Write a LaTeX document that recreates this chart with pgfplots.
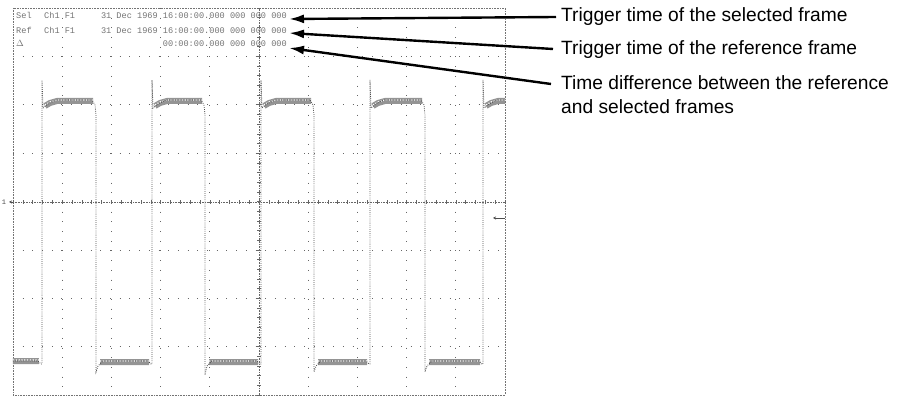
\documentclass[border=0pt]{standalone}
\usepackage{pgfplots}
\pgfplotsset{compat=1.18}
\usepackage{fontspec}
\setmainfont{Liberation Sans}
\newfontfamily\scopefont{Liberation Mono}
\usetikzlibrary{arrows.meta}

\begin{document}
\begin{tikzpicture}[x=1pt,y=1pt]
\useasboundingbox (0,0) rectangle (906,398);
\begin{axis}[
  at={(13pt,3pt)}, anchor=south west,
  scale only axis, width=492pt, height=387pt,
  xmin=13, xmax=505, ymin=8, ymax=395, y dir=reverse,
  clip=false,
  axis line style={draw=black!55, densely dotted, line width=0.6pt},
  xtick={62.2,111.4,160.6,209.8,308.2,357.4,406.6,455.8},
  ytick={56.4,104.8,153.1,249.9,298.3,346.6},
  xticklabels={}, yticklabels={},
  major tick length=0pt,
  grid=major,
  major grid style={draw=black!60, line width=0.7pt, dash pattern=on 0.7pt off 9.0pt},
  unbounded coords=jump,
]
% noisy flat levels of the square wave (bands)
\addplot[black!42, line width=6pt] coordinates {
 (13,361) (39,361) (nan,nan)
 (45,106) (50,103) (57,101) (93,101) (nan,nan)
 (100,362) (149,362) (nan,nan)
 (155,106) (160,103) (167,101) (202,101) (nan,nan)
 (209,362) (258,362) (nan,nan)
 (264,106) (269,103) (276,101) (311,101) (nan,nan)
 (318,362) (367,362) (nan,nan)
 (373,106) (378,103) (385,101) (422,101) (nan,nan)
 (429,362) (480,362) (nan,nan)
 (486,106) (491,103) (498,101) (505,101)
};
% texture of the noise bands
\addplot[white, line width=1.2pt, dash pattern=on 1.2pt off 1.6pt] coordinates {
 (13,360) (39,360) (nan,nan)
 (45,105) (50,102) (57,100) (93,100) (nan,nan)
 (100,361) (149,361) (nan,nan)
 (155,105) (160,102) (167,100) (202,100) (nan,nan)
 (209,361) (258,361) (nan,nan)
 (264,105) (269,102) (276,100) (311,100) (nan,nan)
 (318,361) (367,361) (nan,nan)
 (373,105) (378,102) (385,100) (422,100) (nan,nan)
 (429,361) (480,361) (nan,nan)
 (486,105) (491,102) (498,100) (505,100)
};
% trace
\addplot[black!70, line width=0.8pt, dash pattern=on 0.8pt off 1.3pt] coordinates {
 (13,361) (38,361) (41,364)
 (42,364) (42,80) (43,108) (48,104) (56,100) (92,100) (95,105) (96,115) (96,372) (98,366) (103,361) (148,361) (151,364)
 (152,364) (152,80) (153,108) (158,104) (166,100) (201,100) (204,105) (205,115) (205,375) (207,366) (212,361) (257,361) (260,364)
 (261,364) (261,80) (262,108) (267,104) (275,100) (310,100) (313,105) (314,115) (314,372) (316,366) (321,361) (366,361) (369,364)
 (370,364) (370,80) (371,108) (376,104) (384,100) (421,100) (424,105) (425,115) (425,372) (427,366) (432,361) (479,361) (482,364)
 (483,364) (483,80) (484,108) (489,104) (497,100) (505,100)
};
\end{axis}
% center cross lines with minor ticks
\draw[black!60, line width=0.6pt, densely dotted] (13,196) -- (505,196);
\draw[black!60, line width=0.6pt, densely dotted] (259,3) -- (259,390);
\foreach \i in {0,...,50} {\draw[black!60, line width=0.5pt] (13+\i*9.84,194) -- (13+\i*9.84,198);}
\foreach \i in {0,...,40} {\draw[black!60, line width=0.5pt] (257,3+\i*9.675) -- (261,3+\i*9.675);}
% channel / trigger markers
\node[anchor=center, font=\scopefont\fontsize{7}{8}\selectfont, text=black!70, inner sep=0] at (4,196) {1};
\draw[black!70, line width=0.6pt, -{Stealth[length=3pt,width=3pt]}] (13,196) -- (9,196);
\draw[black!70, line width=0.6pt, -{Stealth[length=3pt,width=3pt]}] (505,180) -- (493,180);
% readout
\begin{scope}[every node/.style={inner sep=0, text=black!55, font=\scopefont\fontsize{8.6}{9}\selectfont}]
\node[anchor=base west] at (16,398-18.5) {Sel};
\node[anchor=base west] at (44,398-18.5) {Ch1 F1};
\node[anchor=base east] at (287,398-18.5) {31 Dec 1969 16:00:00.000 000 000 000};
\node[anchor=base west] at (16,398-33.5) {Ref};
\node[anchor=base west] at (44,398-33.5) {Ch1 F1};
\node[anchor=base east] at (287,398-33.5) {31 Dec 1969 16:00:00.000 000 000 000};
\node[anchor=base west] at (16,398-47) {$\Delta$};
\node[anchor=base east] at (287,398-47) {00:00:00.000 000 000 000};
\end{scope}
% annotation arrows
\begin{scope}[line width=2.4pt, -{Latex[length=15pt,width=9pt]}]
\draw (556,398-17) -- (289,398-19);
\draw (553,398-49) -- (289,398-33);
\draw (551,398-84) -- (289,398-48);
\end{scope}
\begin{scope}[every node/.style={inner sep=0, anchor=base west, font=\fontsize{19.2}{22}\selectfont}]
\node at (561,398-22) {Trigger time of the selected frame};
\node at (561,398-55) {Trigger time of the reference frame};
\node at (561,398-90) {Time difference between the reference};
\node at (561,398-114) {and selected frames};
\end{scope}
\end{tikzpicture}
\end{document}
